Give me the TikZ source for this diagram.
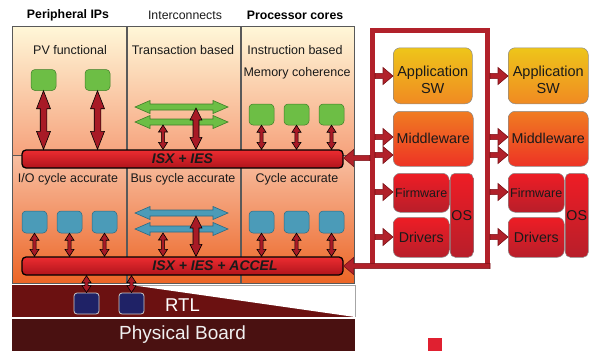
\documentclass[tikz,border=0pt]{standalone}
\usepackage{fontspec}
\setmainfont{Liberation Sans}
\usetikzlibrary{calc}

\definecolor{upTop}{HTML}{FFF7D8}
\definecolor{upBot}{HTML}{F6A27C}
\definecolor{loTop}{HTML}{F8BFA2}
\definecolor{loBot}{HTML}{EC6526}
\definecolor{gFill}{HTML}{6DBE45}
\definecolor{gEdge}{HTML}{3F7E28}
\definecolor{bFill}{HTML}{4B9BB8}
\definecolor{bEdge}{HTML}{2A6A84}
\definecolor{arrRed}{HTML}{A81A26}
\definecolor{busTop}{HTML}{EC2C30}
\definecolor{busBot}{HTML}{B0141C}
\definecolor{rtlRed}{HTML}{6B1111}
\definecolor{boardRed}{HTML}{4A1111}
\definecolor{navy}{HTML}{1F2266}
\definecolor{appTop}{HTML}{EEC51A}
\definecolor{appBot}{HTML}{F08A22}
\definecolor{mwTop}{HTML}{F07C22}
\definecolor{mwBot}{HTML}{ED3324}
\definecolor{fwTop}{HTML}{EE1D25}
\definecolor{fwBot}{HTML}{B81E2A}
\definecolor{frameRed}{HTML}{B1212A}
\definecolor{frameEdge}{HTML}{7A1016}
\definecolor{txt}{HTML}{1A1A1A}
\definecolor{logoRed}{HTML}{E02030}

% vertical double-headed block arrow: [style]{top}{bottom}{body half}{head half}{head length}
\newcommand\vdarr[6][]{%
  \filldraw[blk,#1] let \p1=(#2), \p2=(#3) in
   (\x1,\y1) -- (\x1+#5pt,\y1-#6pt) -- (\x1+#4pt,\y1-#6pt) -- (\x1+#4pt,\y2+#6pt)
   -- (\x1+#5pt,\y2+#6pt) -- (\x1,\y2) -- (\x1-#5pt,\y2+#6pt) -- (\x1-#4pt,\y2+#6pt)
   -- (\x1-#4pt,\y1-#6pt) -- (\x1-#5pt,\y1-#6pt) -- cycle;}
% horizontal double-headed block arrow: [style]{left}{right}{body half}{head half}{head length}
\newcommand\hdarr[6][]{%
  \filldraw[blk,#1] let \p1=(#2), \p2=(#3) in
   (\x1,\y1) -- (\x1+#6pt,\y1+#5pt) -- (\x1+#6pt,\y1+#4pt) -- (\x2-#6pt,\y1+#4pt)
   -- (\x2-#6pt,\y1+#5pt) -- (\x2,\y1) -- (\x2-#6pt,\y1-#5pt) -- (\x2-#6pt,\y1-#4pt)
   -- (\x1+#6pt,\y1-#4pt) -- (\x1+#6pt,\y1-#5pt) -- cycle;}
% single-headed frame arrows, pointing right / left
\newcommand\rarr[2]{%
  \filldraw[frarrow] let \p1=(#1), \p2=(#2) in
   (\x1,\y1+2.6pt) -- (\x2-10pt,\y1+2.6pt) -- (\x2-10pt,\y1+8.5pt) -- (\x2,\y1)
   -- (\x2-10pt,\y1-8.5pt) -- (\x2-10pt,\y1-2.6pt) -- (\x1,\y1-2.6pt) -- cycle;}
\newcommand\larr[2]{%
  \filldraw[frarrow] let \p1=(#1), \p2=(#2) in
   (\x1,\y1+2.6pt) -- (\x2+10pt,\y1+2.6pt) -- (\x2+10pt,\y1+8.5pt) -- (\x2,\y1)
   -- (\x2+10pt,\y1-8.5pt) -- (\x2+10pt,\y1-2.6pt) -- (\x1,\y1-2.6pt) -- cycle;}
% two-line label set a little below the box centre
\newcommand\applabel{\raisebox{-9.2pt}[0pt][0pt]{\begin{tabular}{@{}c@{}}Application\\SW\end{tabular}}}

\tikzset{
  panel/.style={draw=black!65, line width=0.6pt, rectangle, inner sep=0, anchor=north west},
  upper/.style={panel, top color=upTop, bottom color=upBot},
  lower/.style={panel, top color=loTop, bottom color=loBot},
  lbl/.style={font=\fontsize{12.5}{14}\selectfont, text=txt, inner sep=0},
  hdb/.style={font=\fontsize{12.3}{14}\selectfont\bfseries, text=black, inner sep=0},
  hdr/.style={font=\fontsize{12.3}{14}\selectfont, text=txt, inner sep=0},
  gbox/.style={draw=gEdge, fill=gFill, rounded corners=4pt, minimum width=25pt,
    minimum height=21pt, inner sep=0, line width=0.5pt},
  bbox/.style={draw=bEdge, fill=bFill, rounded corners=4pt, minimum width=25pt,
    minimum height=22pt, inner sep=0, line width=0.5pt},
  nbox/.style={draw=black!20, fill=navy, rounded corners=3pt, minimum width=25pt,
    minimum height=21pt, inner sep=0, line width=0.8pt},
  bus/.style={draw=black, line width=1.3pt, top color=busTop, bottom color=busBot,
    rounded corners=4pt, minimum width=321pt, minimum height=18pt, inner sep=0,
    font=\fontsize{14}{16}\selectfont\bfseries\itshape, text=txt},
  bustxt/.style={font=\fontsize{14}{16}\selectfont\bfseries\itshape, text=txt, inner sep=0},
  blk/.style={fill=arrRed, draw=black, line width=0.6pt},
  grn/.style={fill=gFill, draw=gEdge, line width=0.6pt},
  blu/.style={fill=bFill, draw=bEdge, line width=0.6pt},
  frarrow/.style={fill=frameRed, draw=frameEdge, line width=0.6pt},
  frameline/.style={draw=frameEdge, line width=0.6pt, double=frameRed, double distance=4.4pt},
  swbox/.style={draw=black!45, line width=0.5pt, rounded corners=7pt, inner sep=0,
    anchor=north west, text=txt, align=center},
  appbox/.style={swbox, top color=appTop, bottom color=appBot,
    font=\fontsize{14.5}{17}\selectfont},
  mwbox/.style={swbox, top color=mwTop, bottom color=mwBot,
    font=\fontsize{14.3}{17}\selectfont},
  fwbox/.style={swbox, top color=fwTop, bottom color=fwBot,
    font=\fontsize{14.2}{17}\selectfont},
}

\begin{document}
\begin{tikzpicture}[x=1pt,y=-1pt]
\useasboundingbox (0,0) rectangle (598,351);

% column headings
\node[hdb] (hPer) at (68,15) {Peripheral IPs};
\node[hdr] (hInt) at (185,15) {Interconnects};
\node[hdb] (hPro) at (295,15) {Processor cores};

% abstraction columns, upper (functional) and lower (cycle) levels
\node[upper, minimum width=113.5pt, minimum height=129pt] (u1) at (12,26) {};
\node[upper, minimum width=112.5pt, minimum height=129pt] (u2) at (127,26) {};
\node[upper, minimum width=113pt, minimum height=129pt] (u3) at (241,26) {};
\node[lower, minimum width=113.5pt, minimum height=128pt] (l1) at (12,155) {};
\node[lower, minimum width=112.5pt, minimum height=128pt] (l2) at (127,155) {};
\node[lower, minimum width=113pt, minimum height=128pt] (l3) at (241,155) {};

\node[lbl] (tPV) at (70,50) {PV functional};
\node[lbl] (tTr) at (183,50) {Transaction based};
\node[lbl] (tIn) at (295,50) {Instruction based};
\node[lbl] (tMe) at (297,73) {Memory coherence};
\node[lbl] (tIO) at (68,179) {I/O cycle accurate};
\node[lbl] (tBu) at (183,179) {Bus cycle accurate};
\node[lbl] (tCy) at (297,179) {Cycle accurate};

% RTL band and physical board
\node[fill=rtlRed, minimum width=343pt, minimum height=32pt, inner sep=0, anchor=north west] (rtl) at (12,285) {};
\fill[white] (131,285) -- (355,285) -- (355,317) -- cycle;
\draw[black!35, line width=0.5pt] (131,285) -- (355,285) -- (355,317);
\node[text=white, font=\fontsize{18.5}{20}\selectfont, inner sep=0] (tRTL) at (182.5,305.5) {RTL};
\node[fill=boardRed, minimum width=343pt, minimum height=32pt, inner sep=0, anchor=north west] (board) at (12,319) {};
\node[text=white!94!black, font=\fontsize{19}{21}\selectfont, inner sep=0] (tBoard) at (182.5,335) {Physical Board};

% model blocks
\node[gbox] (g1) at (43.5,80) {};
\node[gbox] (g2) at (97.5,80) {};
\node[gbox] (p1) at (261.5,114.5) {};
\node[gbox] (p2) at (296.5,114.5) {};
\node[gbox] (p3) at (331.5,114.5) {};
\node[bbox] (b1) at (34.5,222) {};
\node[bbox] (b2) at (69.5,222) {};
\node[bbox] (b3) at (104.5,222) {};
\node[bbox] (c1) at (261.5,222) {};
\node[bbox] (c2) at (296.5,222) {};
\node[bbox] (c3) at (331.5,222) {};
\node[nbox] (n1) at (86.5,303.5) {};
\node[nbox] (n2) at (131.5,303.5) {};

% simulation buses
\node[bus] (isx) at (182.5,159) {ISX + IES};
\node[bus] (accel) at (182.5,266) {};
\node[bustxt] (tAccel) at (215,266) {ISX + IES + ACCEL};

% interconnect arrows
\coordinate (gaL1) at (135,107);  \coordinate (gaR1) at (228,107);
\coordinate (gaL2) at (135,122);  \coordinate (gaR2) at (228,122);
\coordinate (baL1) at (135,213);  \coordinate (baR1) at (228,213);
\coordinate (baL2) at (135,229);  \coordinate (baR2) at (228,229);
\hdarr[grn]{gaL1}{gaR1}{3}{6.5}{15}
\hdarr[grn]{gaL2}{gaR2}{3}{6.5}{15}
\hdarr[blu]{baL1}{baR1}{3}{6.5}{15}
\hdarr[blu]{baL2}{baR2}{3}{6.5}{15}

% links to the ISX + IES bus
\vdarr{g1.south}{g1.south |- isx.north}{3.3}{7}{18}
\vdarr{g2.south}{g2.south |- isx.north}{3.3}{7}{18}
\coordinate (icT) at (196,108);
\coordinate (icS) at (163,125);
\vdarr{icT}{icT |- isx.north}{3}{6}{12}
\vdarr{icS}{icS |- isx.north}{1.6}{4.5}{7}
\foreach \bx in {p1,p2,p3}
  \vdarr{\bx.south}{\bx.south |- isx.north}{1.6}{4.5}{7};

% links to the ISX + IES + ACCEL bus
\foreach \bx in {b1,b2,b3,c1,c2,c3}
  \vdarr{\bx.south}{\bx.south |- accel.north}{1.6}{4.5}{7};
\coordinate (icT2) at (196,216);
\coordinate (icS2) at (163,233);
\vdarr{icT2}{icT2 |- accel.north}{3}{6}{12}
\vdarr{icS2}{icS2 |- accel.north}{1.6}{4.5}{7}
\vdarr{n1.north |- accel.south}{n1.north}{1.6}{4.5}{7}
\vdarr{n2.north |- accel.south}{n2.north}{1.6}{4.5}{7}

% software stacks
\node[appbox, minimum width=79pt, minimum height=56pt] (app1) at (393,47.5) {\applabel};
\node[mwbox, minimum width=80pt, minimum height=55pt] (mw1) at (393,111) {Middleware};
\node[fwbox, minimum width=56pt, minimum height=39pt, font=\fontsize{12.5}{14}\selectfont] (fw1) at (393,173) {Firmware};
\node[fwbox, minimum width=56pt, minimum height=40pt] (dr1) at (393,217) {Drivers};
\node[fwbox, minimum width=23pt, minimum height=84pt, rounded corners=5pt] (os1) at (450,173) {OS};
\node[appbox, minimum width=80pt, minimum height=56pt] (app2) at (508,47.5) {\applabel};
\node[mwbox, minimum width=80pt, minimum height=55pt] (mw2) at (508,111) {Middleware};
\node[fwbox, minimum width=56pt, minimum height=39pt, font=\fontsize{12.5}{14}\selectfont] (fw2) at (508,173) {Firmware};
\node[fwbox, minimum width=56pt, minimum height=40pt] (dr2) at (508,217) {Drivers};
\node[fwbox, minimum width=23pt, minimum height=84pt, rounded corners=5pt] (os2) at (565,173) {OS};

% stimulus frame
\coordinate (fBL) at (372.5,266);
\coordinate (fTL) at (372.5,30.5);
\coordinate (fTR) at (487.5,30.5);
\coordinate (fBR) at (487.5,266);
\draw[frameline] (fBL) -- (fTL) -- (fTR) -- (fBR);

\foreach \yy/\tg in {76/app1,137/mw1,155/mw1,192/fw1,237/dr1} {
  \coordinate (lf) at (375,\yy);
  \rarr{lf}{lf -| \tg.west}
}
\foreach \yy/\tg in {76/app2,137/mw2,155/mw2,192/fw2,237/dr2} {
  \coordinate (rf) at (490,\yy);
  \rarr{rf}{rf -| \tg.west}
}
\coordinate (toIsx) at (370,158);
\larr{toIsx}{toIsx -| isx.east}
\coordinate (toAcc) at (490,266);
\larr{toAcc}{toAcc -| accel.east}

% logo fragment at the lower edge
\fill[logoRed] (428,338) rectangle (442,351);
\end{tikzpicture}
\end{document}
